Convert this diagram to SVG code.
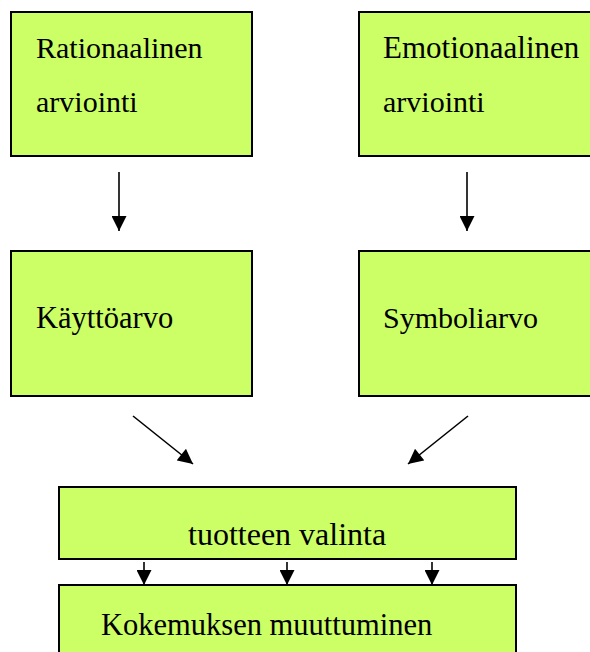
<svg xmlns="http://www.w3.org/2000/svg" width="590" height="652" viewBox="0 0 590 652">
  <style>
    .box { fill: #CCFF66; stroke: #000; stroke-width: 2; }
    .lbl { font-size: 30px; fill: #000; }
    .lbl2 { font-size: 32px; fill: #000; }
    .edge { stroke: #000; stroke-width: 1.6; fill: none; }
  </style>
  <defs>
    <marker id="headBig" viewBox="0 0 10 10" refX="10" refY="5" markerWidth="16" markerHeight="15" markerUnits="userSpaceOnUse" orient="auto">
      <path d="M0,0 L10,5 L0,10 Z" fill="#000"/>
    </marker>
  </defs>
  <rect width="590" height="652" fill="#fff"/>

  <g font-family="Liberation Serif, DejaVu Serif, serif">
    <g id="rationaalinen">
      <rect class="box" x="11" y="12" width="241" height="144"/>
      <text class="lbl" x="36" y="58">Rationaalinen</text>
      <text class="lbl" x="36" y="112">arviointi</text>
    </g>
    <g id="emotionaalinen">
      <rect class="box" x="359" y="12" width="240" height="144"/>
      <text class="lbl" x="383" y="58" style="font-size:31px">Emotionaalinen</text>
      <text class="lbl" x="383" y="112">arviointi</text>
    </g>
    <g id="kayttoarvo">
      <rect class="box" x="11" y="251" width="241" height="145"/>
      <text class="lbl" x="36" y="328" style="font-size:30.5px">Käyttöarvo</text>
    </g>
    <g id="symboliarvo">
      <rect class="box" x="359" y="251" width="240" height="145"/>
      <text class="lbl" x="383" y="328">Symboliarvo</text>
    </g>
    <g id="valinta">
      <rect class="box" x="59" y="487" width="457" height="72"/>
      <text class="lbl2" x="188" y="545">tuotteen valinta</text>
    </g>
    <g id="kokemus">
      <rect class="box" x="59" y="585" width="457" height="80"/>
      <text class="lbl" x="101" y="635" style="font-size:30.5px">Kokemuksen muuttuminen</text>
    </g>
  </g>

  <g id="connectors">
    <line class="edge" x1="119" y1="172" x2="119" y2="231" marker-end="url(#headBig)"/>
    <line class="edge" x1="467" y1="172" x2="467" y2="231" marker-end="url(#headBig)"/>
    <line class="edge" x1="133" y1="416" x2="193" y2="464" marker-end="url(#headBig)"/>
    <line class="edge" x1="468" y1="416" x2="408" y2="464" marker-end="url(#headBig)"/>
    <line class="edge" x1="144" y1="562" x2="144" y2="585" marker-end="url(#headBig)"/>
    <line class="edge" x1="287" y1="562" x2="287" y2="585" marker-end="url(#headBig)"/>
    <line class="edge" x1="432" y1="562" x2="432" y2="585" marker-end="url(#headBig)"/>
  </g>
</svg>
